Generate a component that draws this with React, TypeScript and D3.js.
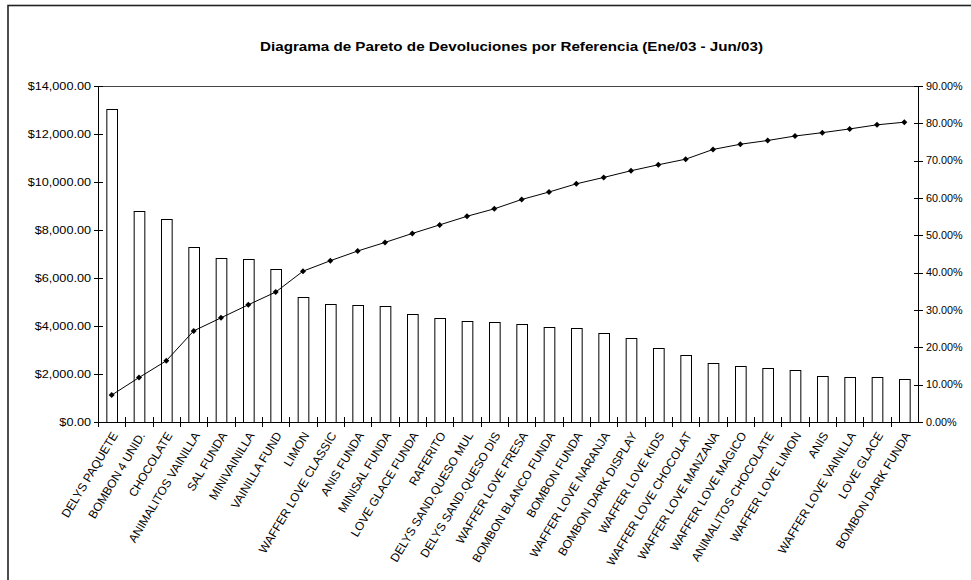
import React from "react";
import * as d3 from "d3";

const categories: string[] = [
  "DELYS PAQUETE", "BOMBON 4 UNID.", "CHOCOLATE", "ANIMALITOS VAINILLA", "SAL FUNDA",
  "MINIVAINILLA", "VAINILLA FUND", "LIMON", "WAFFER LOVE CLASSIC", "ANIS FUNDA",
  "MINISAL FUNDA", "LOVE GLACE FUNDA", "RAFERITO", "DELYS SAND.QUESO MUL", "DELYS SAND.QUESO DIS",
  "WAFFER LOVE FRESA", "BOMBON BLANCO FUNDA", "BOMBON FUNDA", "WAFFER LOVE NARANJA", "BOMBON DARK DISPLAY",
  "WAFFER LOVE KIDS", "WAFFER LOVE CHOCOLAT", "WAFFER LOVE MANZANA", "WAFFER LOVE MAGICO", "ANIMALITOS CHOCOLATE",
  "WAFFER LOVE LIMON", "ANIS", "WAFFER LOVE VAINILLA", "LOVE GLACE", "BOMBON DARK FUNDA",
];

const returnsValue: number[] = [
  13030, 8800, 8440, 7280, 6850, 6800, 6360, 5220, 4930, 4890,
  4820, 4490, 4320, 4210, 4170, 4100, 3970, 3930, 3720, 3490,
  3070, 2790, 2460, 2350, 2240, 2150, 1900, 1860, 1860, 1780,
];

const cumulativePct: number[] = [
  7.2, 11.9, 16.4, 24.4, 27.9, 31.4, 34.8, 40.4, 43.2, 45.8,
  48.1, 50.5, 52.8, 55.1, 57.1, 59.6, 61.6, 63.8, 65.5, 67.3,
  68.9, 70.4, 73.0, 74.4, 75.4, 76.6, 77.5, 78.5, 79.6, 80.3,
];

const leftTicks: number[] = [0, 2000, 4000, 6000, 8000, 10000, 12000, 14000];
const rightTicks: number[] = [0, 10, 20, 30, 40, 50, 60, 70, 80, 90];

const title = "Diagrama de Pareto de Devoluciones por Referencia (Ene/03 - Jun/03)";

export default function App() {
  const W = 971, H = 580;
  const left = 98, right = 918, top = 86, bottom = 422;
  const font = "Arial, 'Liberation Sans', sans-serif";

  const x = d3.scaleBand<string>().domain(categories).range([left, right]).paddingInner(0.61).paddingOuter(0.305);
  const xb = d3.scaleBand<string>().domain(categories).range([left, right]);
  const y = d3.scaleLinear().domain([0, 14000]).range([bottom, top]);
  const y2 = d3.scaleLinear().domain([0, 90]).range([bottom, top]);

  const fmtMoney = (v: number) => "$" + d3.format(",.2f")(v);
  const fmtPct = (v: number) => v.toFixed(2) + "%";

  const line = d3
    .line<number>()
    .x((_, i) => (xb(categories[i]) as number) + xb.bandwidth() / 2)
    .y((d) => y2(d));

  const diamond = d3.symbol().type(d3.symbolSquare).size(18)() as string;

  return (
    <svg width={W} height={H} style={{ position: "absolute", left: 0, top: 0, background: "#fff" }}>
      <rect x={8} y={5.5} width={1200} height={1200} fill="#fff" stroke="#222" strokeWidth={1.6} />
      <text
        x={511.5}
        y={51}
        textAnchor="middle"
        fontFamily={font}
        fontWeight="bold"
        fontSize={13.5}
        fill="#000"
        textLength={503}
        lengthAdjust="spacingAndGlyphs"
      >
        {title}
      </text>

      {/* plot border top */}
      <line x1={left} x2={right} y1={top + 0.5} y2={top + 0.5} stroke="#444" strokeWidth={1} />

      {/* bars */}
      {categories.map((c, i) => (
        <rect
          key={c}
          x={(x(c) as number) + 0.5}
          y={Math.round(y(returnsValue[i])) + 0.5}
          width={x.bandwidth()}
          height={bottom - Math.round(y(returnsValue[i]))}
          fill="#fff"
          stroke="#000"
          strokeWidth={1}
        />
      ))}

      {/* left axis */}
      <line x1={left + 0.5} x2={left + 0.5} y1={top} y2={bottom} stroke="#000" />
      {leftTicks.map((t) => (
        <g key={t}>
          <line x1={left - 4} x2={left + 5} y1={Math.round(y(t)) + 0.5} y2={Math.round(y(t)) + 0.5} stroke="#000" />
          <text
            transform={`translate(91,${y(t)}) scale(1.13,1)`}
            dy="0.35em"
            textAnchor="end"
            fontFamily={font}
            fontSize={11.2}
            fill="#000"
          >
            {fmtMoney(t)}
          </text>
        </g>
      ))}

      {/* right axis */}
      <line x1={right + 0.5} x2={right + 0.5} y1={top} y2={bottom} stroke="#000" />
      {rightTicks.map((t) => (
        <g key={t}>
          <line x1={right - 4} x2={right + 5} y1={Math.round(y2(t)) + 0.5} y2={Math.round(y2(t)) + 0.5} stroke="#000" />
          <text x={926} y={y2(t)} dy="0.35em" textAnchor="start" fontFamily={font} fontSize={10.8} fill="#000">
            {fmtPct(t)}
          </text>
        </g>
      ))}

      {/* x axis */}
      <line x1={left} x2={right + 1} y1={bottom + 0.5} y2={bottom + 0.5} stroke="#000" />
      {categories.map((c) => (
        <line
          key={"t" + c}
          x1={Math.round(xb(c) as number) + 0.5}
          x2={Math.round(xb(c) as number) + 0.5}
          y1={bottom - 5}
          y2={bottom + 5}
          stroke="#000"
        />
      ))}
      {categories.map((c) => (
        <text
          key={"l" + c}
          transform={`translate(${(xb(c) as number) + xb.bandwidth() / 2 + 3},${bottom + 11}) rotate(-59)`}
          textAnchor="end"
          dy="0.35em"
          fontFamily={font}
          fontSize={11.9}
          fill="#000"
        >
          {c}
        </text>
      ))}

      {/* cumulative line */}
      <path d={line(cumulativePct) as string} fill="none" stroke="#000" strokeWidth={1} />
      {cumulativePct.map((p, i) => (
        <path
          key={"m" + i}
          d={diamond}
          transform={`translate(${(xb(categories[i]) as number) + xb.bandwidth() / 2},${y2(p)}) rotate(45)`}
          fill="#000"
        />
      ))}
    </svg>
  );
}
